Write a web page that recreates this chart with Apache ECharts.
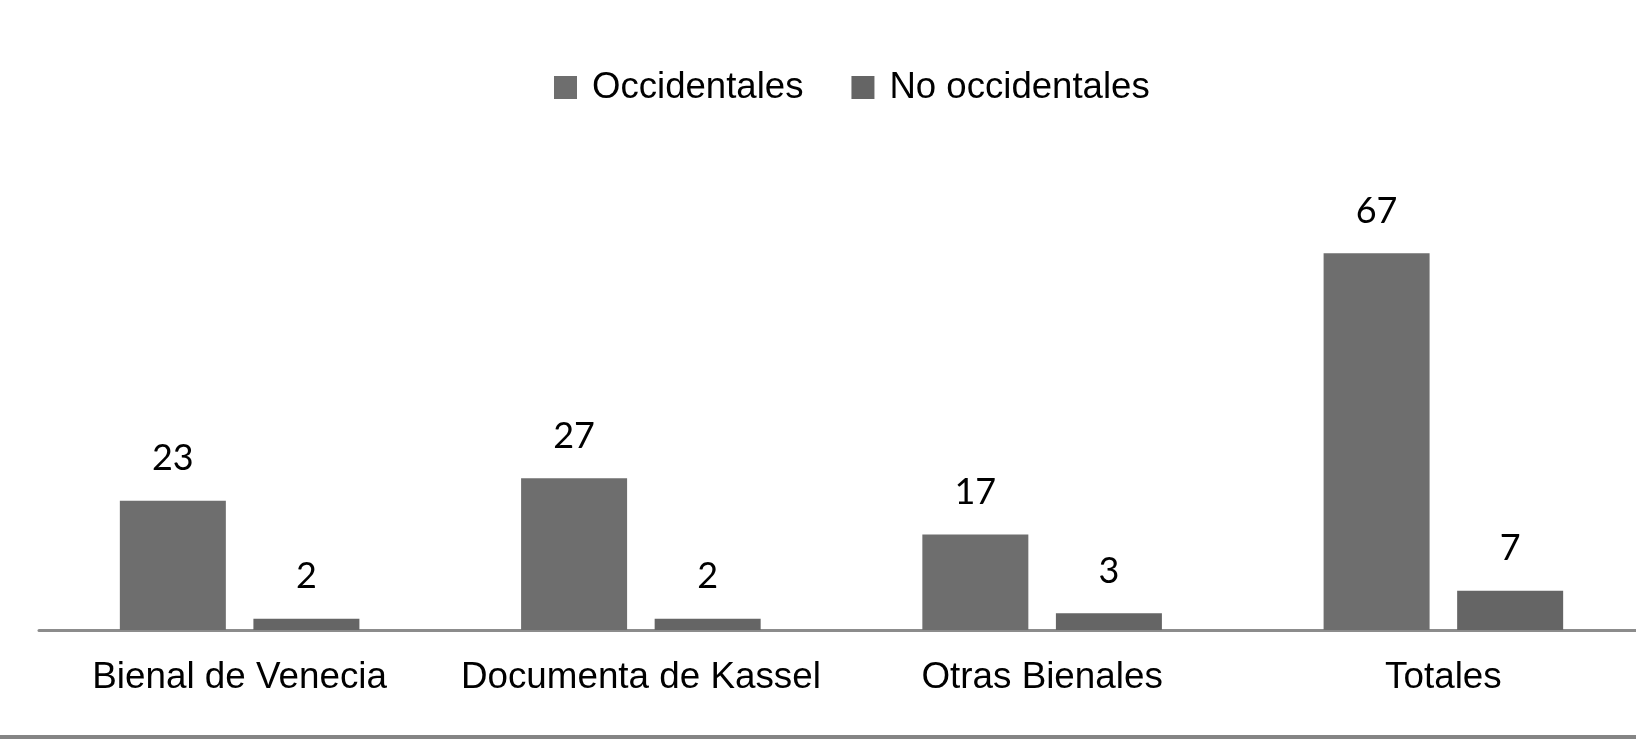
<!DOCTYPE html>
<html>
<head>
<meta charset="utf-8">
<script src="https://cdn.jsdelivr.net/npm/echarts@6/dist/echarts.min.js"></script>
<style>
  html, body { margin: 0; padding: 0; background: #fff; }
  #chart { width: 1636px; height: 739px; }
</style>
</head>
<body>
<div id="chart"></div>
<script>
const categories = ["Bienal de Venecia", "Documenta de Kassel", "Otras Bienales", "Totales"];
const seriesNames = ["Occidentales", "No occidentales"];
const occidentales = [23, 27, 17, 67];
const noOccidentales = [2, 2, 3, 7];

const chart = echarts.init(document.getElementById("chart"));

const labelStyle = {
  show: true,
  position: "top",
  distance: 24,
  color: "#000",
  fontSize: 36,
  fontFamily: "Lato",
};

chart.setOption({
  animation: false,
  backgroundColor: "#fff",
  legend: {
    top: 64,
    left: 549,
    itemWidth: 23,
    itemHeight: 23,
    itemGap: 48,
    icon: "rect",
    textStyle: {
      color: "#000",
      fontSize: 36.6,
      fontFamily: "Liberation Sans",
      padding: [0, 0, 0, 10],
    },
    data: seriesNames,
  },
  grid: {
    left: 39,
    width: 1605,
    top: 180,
    bottom: 109,
    outerBoundsMode: "none",
  },
  xAxis: {
    type: "category",
    data: categories,
    axisTick: { show: false },
    axisLine: {
      lineStyle: { color: "#8c8c8c", width: 3 },
    },
    axisLabel: {
      interval: 0,
      margin: 29,
      color: "#000",
      fontSize: 36.8,
      fontFamily: "Liberation Sans",
    },
  },
  yAxis: {
    type: "value",
    min: 0,
    max: 80,
    show: false,
    splitLine: { show: false },
  },
  series: [
    {
      name: seriesNames[0],
      type: "bar",
      data: occidentales,
      barWidth: 106,
      barGap: "26%",
      itemStyle: { color: "#6e6e6e" },
      label: labelStyle,
    },
    {
      name: seriesNames[1],
      type: "bar",
      data: noOccidentales,
      barWidth: 106,
      itemStyle: { color: "#656565" },
      label: labelStyle,
    },
  ],
  graphic: [
    {
      type: "rect",
      shape: { x: 0, y: 735, width: 1636, height: 4 },
      style: { fill: "#858585" },
    },
  ],
});

window.addEventListener("resize", () => {
  chart.resize();
});
</script>
</body>
</html>
